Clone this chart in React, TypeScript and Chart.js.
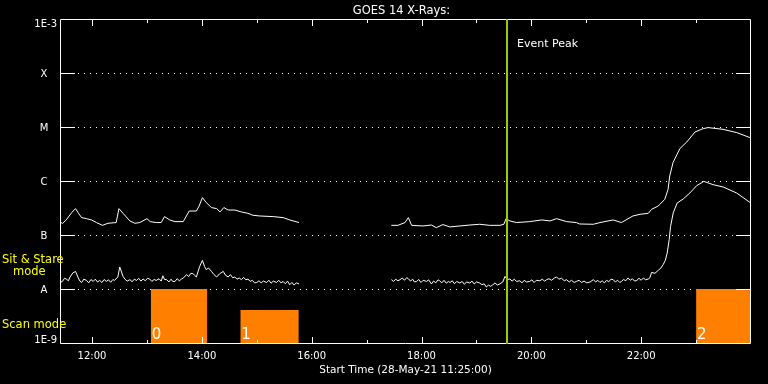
import React, { useEffect, useRef } from "react";
import { Chart, registerables } from "chart.js";

Chart.register(...registerables);

const TITLE = "GOES 14 X-Rays:";
const X_TITLE = "Start Time (28-May-21 11:25:00)";
const X_MIN = 11.4167;
const X_MAX = 24.0;

const HOUR_TICKS = [12, 13, 14, 15, 16, 17, 18, 19, 20, 21, 22, 23];
const HOUR_LABELS = ["12:00", "", "14:00", "", "16:00", "", "18:00", "", "20:00", "", "22:00", ""];

const FLUX_TICKS = [1e-9, 1e-8, 1e-7, 1e-6, 1e-5, 1e-4, 1e-3];
const FLUX_LABELS = ["1E-9", "A", "B", "C", "M", "X", "1E-3"];

// GOES long channel (1-8 A), hours UT
const LONG_TIMES = [
  11.42, 11.46, 11.53, 11.63, 11.70, 11.745, 11.81, 11.90, 11.99, 12.08, 12.19, 12.29, 12.44, 12.49, 12.565,
  12.69, 12.78, 12.87, 13.00, 13.06, 13.17, 13.26, 13.32, 13.415, 13.51, 13.66, 13.77, 13.90, 13.95, 14.01,
  14.08, 14.175, 14.27, 14.33, 14.40, 14.48, 14.60, 14.72, 14.84, 14.93, 15.055, 15.30, 15.48, 15.60, 15.77,
  16.60,
  17.45, 17.57, 17.70, 17.76, 17.82, 18.03, 18.18, 18.27, 18.39, 18.515, 18.70, 18.88, 19.06, 19.24, 19.43,
  19.50, 19.54, 19.61, 19.73, 19.97, 20.19, 20.34, 20.46, 20.64, 20.82, 20.88, 21.13, 21.25, 21.49, 21.64,
  21.85, 21.98, 22.13, 22.19, 22.31, 22.43, 22.49, 22.52, 22.58, 22.705, 22.83, 22.98, 23.13, 23.22, 23.49,
  23.74, 23.98,
];
const LONG_FLUX = [
  1.77e-7, 1.63e-7, 1.9e-7, 2.6e-7, 3.08e-7, 2.6e-7, 2.1e-7, 2.01e-7, 1.9e-7, 1.7e-7, 1.51e-7, 1.65e-7, 1.7e-7, 3.08e-7, 2.52e-7,
  1.82e-7, 1.65e-7, 1.7e-7, 2.01e-7, 1.77e-7, 1.7e-7, 1.7e-7, 2.19e-7, 1.9e-7, 1.77e-7, 1.77e-7, 2.78e-7, 2.78e-7, 3.44e-7, 4.93e-7,
  3.98e-7, 3.22e-7, 3.08e-7, 2.67e-7, 3.22e-7, 2.9e-7, 2.9e-7, 2.67e-7, 2.52e-7, 2.32e-7, 2.25e-7, 2.19e-7, 2.1e-7, 1.9e-7, 1.7e-7,
  null,
  1.51e-7, 1.51e-7, 1.7e-7, 2.1e-7, 1.51e-7, 1.47e-7, 1.53e-7, 1.37e-7, 1.56e-7, 1.41e-7, 1.47e-7, 1.53e-7, 1.58e-7, 1.51e-7, 1.51e-7,
  1.58e-7, 2.01e-7, 1.82e-7, 1.7e-7, 1.77e-7, 1.9e-7, 1.82e-7, 2.01e-7, 1.77e-7, 1.7e-7, 1.6e-7, 1.58e-7, 1.7e-7, 1.9e-7, 1.7e-7,
  2.25e-7, 2.42e-7, 2.52e-7, 2.99e-7, 3.44e-7, 4.58e-7, 7.02e-7, 1.24e-6, 2.19e-6, 3.98e-6, 5.27e-6, 8.07e-6, 9.34e-6, 9.75e-6, 9.06e-6,
  7.87e-6, 6.37e-6,
];

// GOES short channel (0.5-4 A)
const SHORT_TIMES = [
  11.42, 11.44, 11.46, 11.50, 11.53, 11.57, 11.60, 11.65, 11.70, 11.75, 11.78, 11.81, 11.85, 11.90, 11.94,
  11.98, 12.02, 12.06, 12.10, 12.14, 12.18, 12.22, 12.26, 12.30, 12.34, 12.38, 12.41, 12.47, 12.505, 12.565,
  12.60, 12.64, 12.69, 12.73, 12.77, 12.81, 12.85, 12.89, 12.93, 12.97, 13.01, 13.05, 13.09, 13.13, 13.17,
  13.22, 13.26, 13.29, 13.32, 13.36, 13.40, 13.44, 13.47, 13.51, 13.55, 13.59, 13.63, 13.67, 13.72, 13.76,
  13.80, 13.84, 13.87, 13.90, 13.96, 14.01, 14.05, 14.08, 14.12, 14.175, 14.22, 14.27, 14.32, 14.39, 14.43,
  14.48, 14.52, 14.56, 14.60, 14.64, 14.68, 14.72, 14.76, 14.80, 14.84, 14.88, 14.92, 14.96, 15.00, 15.04,
  15.08, 15.12, 15.18, 15.22, 15.26, 15.30, 15.36, 15.40, 15.44, 15.48, 15.52, 15.56, 15.60, 15.64, 15.68,
  15.72, 15.77,
  16.60,
  17.45, 17.49, 17.53, 17.57, 17.61, 17.65, 17.69, 17.73, 17.76, 17.80, 17.84, 17.87, 17.91, 17.95, 17.99,
  18.03, 18.09, 18.13, 18.18, 18.22, 18.26, 18.30, 18.33, 18.37, 18.41, 18.45, 18.49, 18.52, 18.56, 18.60,
  18.64, 18.70, 18.74, 18.78, 18.82, 18.88, 18.92, 18.96, 19.00, 19.06, 19.10, 19.14, 19.18, 19.22, 19.26,
  19.30, 19.34, 19.38, 19.43, 19.48, 19.52, 19.56, 19.61, 19.65, 19.69, 19.73, 19.79, 19.83, 19.87, 19.91,
  19.97, 20.01, 20.05, 20.09, 20.155, 20.20, 20.24, 20.28, 20.32, 20.37, 20.42, 20.46, 20.50, 20.55, 20.60,
  20.64, 20.69, 20.73, 20.78, 20.82, 20.87, 20.91, 20.96, 21.01, 21.07, 21.13, 21.17, 21.21, 21.25, 21.29,
  21.33, 21.37, 21.41, 21.45, 21.49, 21.53, 21.57, 21.61, 21.64, 21.68, 21.72, 21.76, 21.80, 21.84, 21.88,
  21.92, 21.96, 22.00, 22.04, 22.08, 22.13, 22.16, 22.19, 22.25, 22.31, 22.36, 22.40, 22.44, 22.474, 22.51,
  22.535, 22.583, 22.655, 22.765, 22.887, 23.009, 23.142, 23.311, 23.494, 23.738, 23.98,
];
const SHORT_FLUX = [
  1.49e-8, 1.34e-8, 1.38e-8, 1.58e-8, 1.53e-8, 1.42e-8, 1.67e-8, 1.98e-8, 2.12e-8, 1.6e-8, 1.4e-8, 1.32e-8, 1.52e-8, 1.44e-8, 1.3e-8,
  1.5e-8, 1.38e-8, 1.52e-8, 1.35e-8, 1.44e-8, 1.32e-8, 1.5e-8, 1.38e-8, 1.48e-8, 1.33e-8, 1.5e-8, 1.44e-8, 1.67e-8, 2.56e-8, 1.71e-8,
  1.52e-8, 1.4e-8, 1.49e-8, 1.36e-8, 1.52e-8, 1.44e-8, 1.58e-8, 1.4e-8, 1.53e-8, 1.42e-8, 1.58e-8, 1.53e-8, 1.38e-8, 1.5e-8, 1.44e-8,
  1.55e-8, 1.4e-8, 1.76e-8, 1.5e-8, 1.49e-8, 1.35e-8, 1.52e-8, 1.38e-8, 1.38e-8, 1.55e-8, 1.42e-8, 1.53e-8, 1.62e-8, 1.84e-8, 1.7e-8,
  1.95e-8, 1.92e-8, 1.78e-8, 1.67e-8, 2.62e-8, 3.39e-8, 2.6e-8, 2.28e-8, 2.45e-8, 2.12e-8, 1.85e-8, 1.67e-8, 1.9e-8, 2.12e-8, 1.8e-8,
  1.67e-8, 1.85e-8, 1.62e-8, 1.67e-8, 1.52e-8, 1.6e-8, 1.49e-8, 1.64e-8, 1.48e-8, 1.53e-8, 1.38e-8, 1.45e-8, 1.3e-8, 1.32e-8, 1.42e-8,
  1.3e-8, 1.4e-8, 1.32e-8, 1.45e-8, 1.28e-8, 1.4e-8, 1.32e-8, 1.45e-8, 1.3e-8, 1.38e-8, 1.25e-8, 1.4e-8, 1.2e-8, 1.32e-8, 1.18e-8,
  1.3e-8, 1.24e-8,
  null,
  1.49e-8, 1.38e-8, 1.52e-8, 1.42e-8, 1.49e-8, 1.6e-8, 1.45e-8, 1.62e-8, 1.55e-8, 1.4e-8, 1.52e-8, 1.35e-8, 1.38e-8, 1.5e-8, 1.32e-8,
  1.45e-8, 1.38e-8, 1.48e-8, 1.24e-8, 1.4e-8, 1.3e-8, 1.48e-8, 1.42e-8, 1.3e-8, 1.45e-8, 1.28e-8, 1.38e-8, 1.32e-8, 1.42e-8, 1.25e-8,
  1.38e-8, 1.29e-8, 1.38e-8, 1.22e-8, 1.35e-8, 1.29e-8, 1.4e-8, 1.24e-8, 1.35e-8, 1.29e-8, 1.2e-8, 1.25e-8, 1.09e-8, 1.18e-8, 1.12e-8,
  1.2e-8, 1.3e-8, 1.18e-8, 1.25e-8, 1.35e-8, 1.71e-8, 1.5e-8, 1.53e-8, 1.4e-8, 1.52e-8, 1.38e-8, 1.42e-8, 1.3e-8, 1.45e-8, 1.35e-8,
  1.38e-8, 1.48e-8, 1.32e-8, 1.45e-8, 1.42e-8, 1.52e-8, 1.4e-8, 1.49e-8, 1.55e-8, 1.45e-8, 1.6e-8, 1.67e-8, 1.52e-8, 1.58e-8, 1.42e-8,
  1.49e-8, 1.35e-8, 1.45e-8, 1.32e-8, 1.38e-8, 1.45e-8, 1.32e-8, 1.4e-8, 1.3e-8, 1.35e-8, 1.49e-8, 1.35e-8, 1.45e-8, 1.32e-8, 1.42e-8,
  1.3e-8, 1.45e-8, 1.36e-8, 1.52e-8, 1.49e-8, 1.35e-8, 1.45e-8, 1.32e-8, 1.38e-8, 1.5e-8, 1.42e-8, 1.6e-8, 1.45e-8, 1.55e-8, 1.4e-8,
  1.44e-8, 1.58e-8, 1.45e-8, 1.6e-8, 1.48e-8, 1.53e-8, 1.62e-8, 2.03e-8, 1.95e-8, 2.21e-8, 2.45e-8, 2.82e-8, 3.4e-8, 4.64e-8, 8.18e-8,
  1.44e-7, 2.55e-7, 3.91e-7, 4.64e-7, 6.0e-7, 8.18e-7, 9.84e-7, 8.54e-7, 7.74e-7, 6.0e-7, 4.02e-7,
];

// Instrument mode blocks (0 / 2 = sit & stare, 1 = scan)
const MODE_STARTS = [13.07, 14.7, 23.0];
const MODE_ENDS = [14.1, 15.765, 24.05];
const MODE_TOPS = [1e-8, 4.1e-9, 1e-8];
const MODE_LABELS = ["0", "1", "2"];

const EVENT_PEAK = 19.554;
const EVENT_LABEL = "Event Peak";

const FONT = "'DejaVu Sans', sans-serif";

const goesPlugin = {
  id: "goesDecor",
  beforeDraw(chart: any) {
    const ctx = chart.ctx;
    ctx.save();
    ctx.fillStyle = "#000";
    ctx.fillRect(0, 0, chart.width, chart.height);
    ctx.restore();
  },
  beforeDatasetsDraw(chart: any) {
    const { ctx, chartArea } = chart;
    const ys = chart.scales.y;
    ctx.save();
    ctx.strokeStyle = "#fff";
    ctx.lineWidth = 1;
    ctx.setLineDash([1, 5]);
    for (let i = 1; i < FLUX_TICKS.length - 1; i++) {
      const y = Math.round(ys.getPixelForValue(FLUX_TICKS[i])) + 0.5;
      ctx.beginPath();
      ctx.moveTo(chartArea.left + 18, y);
      ctx.lineTo(chartArea.right - 15, y);
      ctx.stroke();
    }
    ctx.restore();
  },
  afterDatasetsDraw(chart: any) {
    const { ctx, chartArea } = chart;
    const xs = chart.scales.x;
    const ys = chart.scales.y;
    const L = chartArea.left, R = chartArea.right, T = chartArea.top, B = chartArea.bottom;
    ctx.save();
    ctx.strokeStyle = "#fff";
    ctx.lineWidth = 1;
    ctx.setLineDash([]);
    // frame
    ctx.beginPath();
    ctx.moveTo(L + 0.5, T + 0.5);
    ctx.lineTo(R - 0.5, T + 0.5);
    ctx.lineTo(R - 0.5, B + 0.5);
    ctx.lineTo(L + 0.5, B + 0.5);
    ctx.closePath();
    ctx.stroke();
    // y ticks (inner, both sides)
    for (let i = 1; i < FLUX_TICKS.length - 1; i++) {
      const y = Math.round(ys.getPixelForValue(FLUX_TICKS[i])) + 0.5;
      ctx.beginPath();
      ctx.moveTo(L, y);
      ctx.lineTo(L + 15, y);
      ctx.moveTo(R - 15, y);
      ctx.lineTo(R, y);
      ctx.stroke();
    }
    // x ticks (top and bottom, inward)
    HOUR_TICKS.forEach((h, i) => {
      const x = Math.round(xs.getPixelForValue(h)) + 0.5;
      const len = HOUR_LABELS[i] ? 7 : 4;
      ctx.beginPath();
      ctx.moveTo(x, B + 1);
      ctx.lineTo(x, B + 1 - len);
      ctx.moveTo(x, T);
      ctx.lineTo(x, T + len);
      ctx.stroke();
    });
    // event peak line
    const ex = Math.round(xs.getPixelForValue(EVENT_PEAK));
    ctx.strokeStyle = "#9ACD00";
    ctx.lineWidth = 2;
    ctx.beginPath();
    ctx.moveTo(ex, T);
    ctx.lineTo(ex, B + 1);
    ctx.stroke();

    // texts
    ctx.fillStyle = "#fff";
    ctx.textBaseline = "alphabetic";
    ctx.font = `11px ${FONT}`;
    ctx.textAlign = "left";
    ctx.fillText(EVENT_LABEL, ex + 10, 47);

    // mode labels inside blocks
    ctx.font = `15px ${FONT}`;
    MODE_STARTS.forEach((t, i) => {
      const x = xs.getPixelForValue(t);
      ctx.fillText(MODE_LABELS[i], x + 1, B - 4.5);
    });

    // y labels
    ctx.font = `10px ${FONT}`;
    FLUX_TICKS.forEach((v, i) => {
      const y = ys.getPixelForValue(v);
      if (i === 0) {
        ctx.textAlign = "right";
        ctx.fillText(FLUX_LABELS[i], L - 3, y);
      } else if (i === FLUX_TICKS.length - 1) {
        ctx.textAlign = "right";
        ctx.fillText(FLUX_LABELS[i], L - 3, y + 7.5);
      } else {
        ctx.textAlign = "center";
        ctx.fillText(FLUX_LABELS[i], 44, y + 4);
      }
    });

    // x labels
    ctx.textAlign = "center";
    HOUR_TICKS.forEach((h, i) => {
      if (!HOUR_LABELS[i]) return;
      ctx.fillText(HOUR_LABELS[i], xs.getPixelForValue(h), 359);
    });

    // axis title
    ctx.font = `10.5px ${FONT}`;
    ctx.fillText(X_TITLE, (L + R) / 2, 372.5);

    // title
    ctx.font = `11.5px ${FONT}`;
    ctx.fillText(TITLE, (L + R) / 2 - 4, 14);

    // mode legend
    ctx.fillStyle = "#FFFF00";
    ctx.textAlign = "left";
    ctx.font = `11.5px ${FONT}`;
    ctx.fillText("Sit & Stare", 2, 262.5);
    ctx.fillText("mode", 13, 274.5);
    ctx.fillText("Scan mode", 2, 327.5);
    ctx.restore();
  },
};

export default function App() {
  const canvasRef = useRef<HTMLCanvasElement | null>(null);

  useEffect(() => {
    document.body.style.margin = "0";
    document.body.style.background = "#000";
    const canvas = canvasRef.current;
    if (!canvas) return;

    const modeSets = MODE_STARTS.map((s, i) => ({
      type: "line" as const,
      data: [
        { x: s, y: MODE_TOPS[i] },
        { x: MODE_ENDS[i], y: MODE_TOPS[i] },
      ],
      borderWidth: 0,
      borderColor: "rgba(0,0,0,0)",
      backgroundColor: "#FF8000",
      fill: "start",
      pointRadius: 0,
      clip: { left: 0, top: 0, right: 4, bottom: 0 },
      order: 2,
    }));

    const chart = new Chart(canvas, {
      type: "line",
      data: {
        datasets: [
          {
            label: "long",
            data: LONG_TIMES.map((t, i) => ({ x: t, y: LONG_FLUX[i] })),
            borderColor: "#ffffff",
            borderWidth: 1,
            pointRadius: 0,
            fill: false,
            spanGaps: false,
            tension: 0,
            order: 1,
          },
          {
            label: "short",
            data: SHORT_TIMES.map((t, i) => ({ x: t, y: SHORT_FLUX[i] })),
            borderColor: "#ffffff",
            borderWidth: 1,
            pointRadius: 0,
            fill: false,
            spanGaps: false,
            tension: 0,
            order: 1,
          },
          ...modeSets,
        ] as any,
      },
      options: {
        responsive: false,
        animation: false,
        devicePixelRatio: 1,
        layout: { padding: { left: 60, top: 19, right: 17, bottom: 41 } },
        scales: {
          x: { type: "linear", min: X_MIN, max: X_MAX, display: false },
          y: { type: "logarithmic", min: 1e-9, max: 1e-3, display: false },
        },
        plugins: {
          legend: { display: false },
          tooltip: { enabled: false },
          title: { display: false },
        },
        elements: { point: { radius: 0 } },
      } as any,
      plugins: [goesPlugin],
    });

    return () => chart.destroy();
  }, []);

  return (
    <div style={{ width: 768, height: 384, background: "#000" }}>
      <canvas ref={canvasRef} width={768} height={384} style={{ display: "block" }} />
    </div>
  );
}
